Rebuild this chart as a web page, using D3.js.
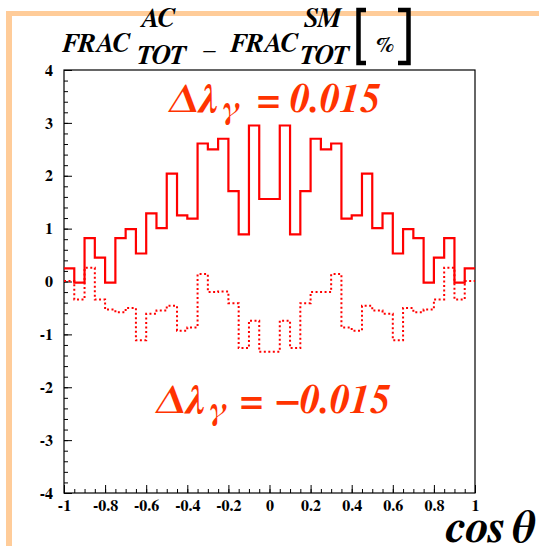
<!DOCTYPE html>
<html><head><meta charset="utf-8">
<script src="https://cdn.jsdelivr.net/npm/d3@7"></script>
<style>body{margin:0;background:#fff}svg{display:block}
.sf{font-family:"FreeSerif","Liberation Serif","Times New Roman",serif;font-weight:bold}
.it{font-style:italic}</style>
</head><body>
<script>
const binLow = [-1,-0.95,-0.9,-0.85,-0.8,-0.75,-0.7,-0.65,-0.6,-0.55,-0.5,-0.45,-0.4,-0.35,-0.3,-0.25,-0.2,-0.15,-0.1,-0.05,
                0,0.05,0.1,0.15,0.2,0.25,0.3,0.35,0.4,0.45,0.5,0.55,0.6,0.65,0.7,0.75,0.8,0.85,0.9,0.95];
const binWidth = 0.05;
const plusSeries = [0.25,-0.02,0.82,0.45,-0.02,0.82,0.99,0.53,1.29,1.01,2.04,1.25,1.19,2.61,2.50,2.70,1.71,0.89,2.95,1.56,
                    1.56,2.95,0.89,1.71,2.70,2.50,2.61,1.19,1.25,2.04,1.01,1.29,0.53,0.99,0.82,-0.02,0.45,0.82,-0.02,0.25];
const minusSeries = [0.01,-0.34,0.26,-0.34,-0.53,-0.58,-0.50,-1.11,-0.61,-0.55,-0.46,-0.93,-0.87,0.14,-0.20,-0.19,-0.41,-1.26,-0.74,-1.33,
                     -1.33,-0.74,-1.26,-0.41,-0.20,-0.20,0.14,-0.87,-0.93,-0.46,-0.55,-0.61,-1.11,-0.50,-0.58,-0.53,-0.34,0.26,-0.34,0.01];
const xTicks = [-1,-0.8,-0.6,-0.4,-0.2,0,0.2,0.4,0.6,0.8,1];
const yTicks = [-4,-3,-2,-1,0,1,2,3,4];
const labelPlus = "0.015";
const labelMinus = "0.015";

const W = 539, H = 546;
const svg = d3.select("body").append("svg").attr("width", W).attr("height", H);
svg.append("rect").attr("width", W).attr("height", H).attr("fill", "#fff");

// orange frame
svg.append("line").attr("x1", 6).attr("x2", W).attr("y1", 13.5).attr("y2", 13.5)
  .attr("stroke", "#ffcc99").attr("stroke-width", 5);
svg.append("line").attr("x1", 9).attr("x2", 9).attr("y1", 11).attr("y2", H)
  .attr("stroke", "#ffcc99").attr("stroke-width", 6);

const L = 64, R = 475, T = 70, B = 493;
const x = d3.scaleLinear().domain([-1, 1]).range([L, R]);
const y = d3.scaleLinear().domain([-4, 4]).range([B, T]);

// minor ticks
const xMinor = d3.range(-1, 1.0001, 0.05);
const yMinor = d3.range(-4, 4.0001, 0.2);
svg.append("g").attr("transform", `translate(0,${B})`)
  .call(d3.axisBottom(x).tickValues(xMinor).tickSize(-4).tickFormat(""))
  .call(g => g.select(".domain").remove());
svg.append("g").attr("transform", `translate(${L},0)`)
  .call(d3.axisLeft(y).tickValues(yMinor).tickSize(-4).tickFormat(""))
  .call(g => g.select(".domain").remove());

// major axes
const fmt = d => String(d);
const gx = svg.append("g").attr("transform", `translate(0,${B})`)
  .call(d3.axisBottom(x).tickValues(xTicks).tickSize(-8).tickPadding(7).tickFormat(fmt));
gx.select(".domain").remove();
gx.attr("font-family", null).attr("font-size", null);
gx.selectAll("text").attr("class", "sf").style("font-size", "16px").attr("fill", "#000").attr("dy", "0.71em");
const gy = svg.append("g").attr("transform", `translate(${L},0)`)
  .call(d3.axisLeft(y).tickValues(yTicks).tickSize(-8).tickPadding(11).tickFormat(fmt));
gy.select(".domain").remove();
gy.attr("font-family", null).attr("font-size", null);
gy.selectAll("text").attr("class", "sf").style("font-size", "16px").attr("fill", "#000");
svg.selectAll(".tick line").attr("stroke", "#000");

// frame
svg.append("rect").attr("x", L).attr("y", T).attr("width", R - L).attr("height", B - T)
  .attr("fill", "none").attr("stroke", "#000").attr("stroke-width", 1.2);

// histograms
function pts(vals) {
  const p = binLow.map((b, i) => [b, vals[i]]);
  p.push([binLow[binLow.length - 1] + binWidth, vals[vals.length - 1]]);
  return p;
}
const line = d3.line().x(d => x(d[0])).y(d => y(d[1])).curve(d3.curveStepAfter);
svg.append("path").attr("d", line(pts(minusSeries))).attr("fill", "none")
  .attr("stroke", "#ff0000").attr("stroke-width", 2).attr("stroke-dasharray", "2,2.5");
svg.append("path").attr("d", line(pts(plusSeries))).attr("fill", "none")
  .attr("stroke", "#ff0000").attr("stroke-width", 2.2);

// text helper
function tt(xp, yp, s, fs, col) {
  return svg.append("text").attr("class", "sf it").attr("fill", col || "#000").attr("x", xp).attr("y", yp)
    .style("font-size", (fs || 26) + "px").text(s);
}

// annotations
const c = "#ff3300";
function annot(x0, yb, val, neg) {
  tt(x0, yb, "\u0394", 40, c);
  tt(x0 + 29, yb, "\u03bb", 40, c);
  tt(x0 + 54, yb + 6, "\u03b3", 32, c);
  tt(x0 + (neg ? 83 : 87), yb, "=", 40, c);
  if (neg) {
    tt(x0 + 119, yb, "\u2212", 40, c).attr("textLength", 24).attr("lengthAdjust", "spacingAndGlyphs");
    tt(x0 + 145, yb, val, 40, c);
  } else {
    tt(x0 + 122, yb, val, 40, c);
  }
}
annot(168, 112, labelPlus, false);
annot(155, 413, labelMinus, true);

// title
tt(62, 52, "FRAC", 27);
tt(140, 27, "AC", 27);
tt(136, 64, "TOT", 27);
tt(209, 57, "\u2013").attr("text-anchor", "middle");
tt(230, 52, "FRAC", 27);
tt(304, 27, "SM", 27);
tt(299, 64, "TOT", 27);
tt(376, 52, "%", 22);
svg.append("path").attr("d", "M366,10H358.5V63H366").attr("fill", "none").attr("stroke", "#000").attr("stroke-width", 4.5);
svg.append("path").attr("d", "M398,10H408.5V63H398").attr("fill", "none").attr("stroke", "#000").attr("stroke-width", 4.5);

// x title
tt(534, 542, "cos\u2009\u03b8", 47).attr("text-anchor", "end");
</script>
</body></html>
